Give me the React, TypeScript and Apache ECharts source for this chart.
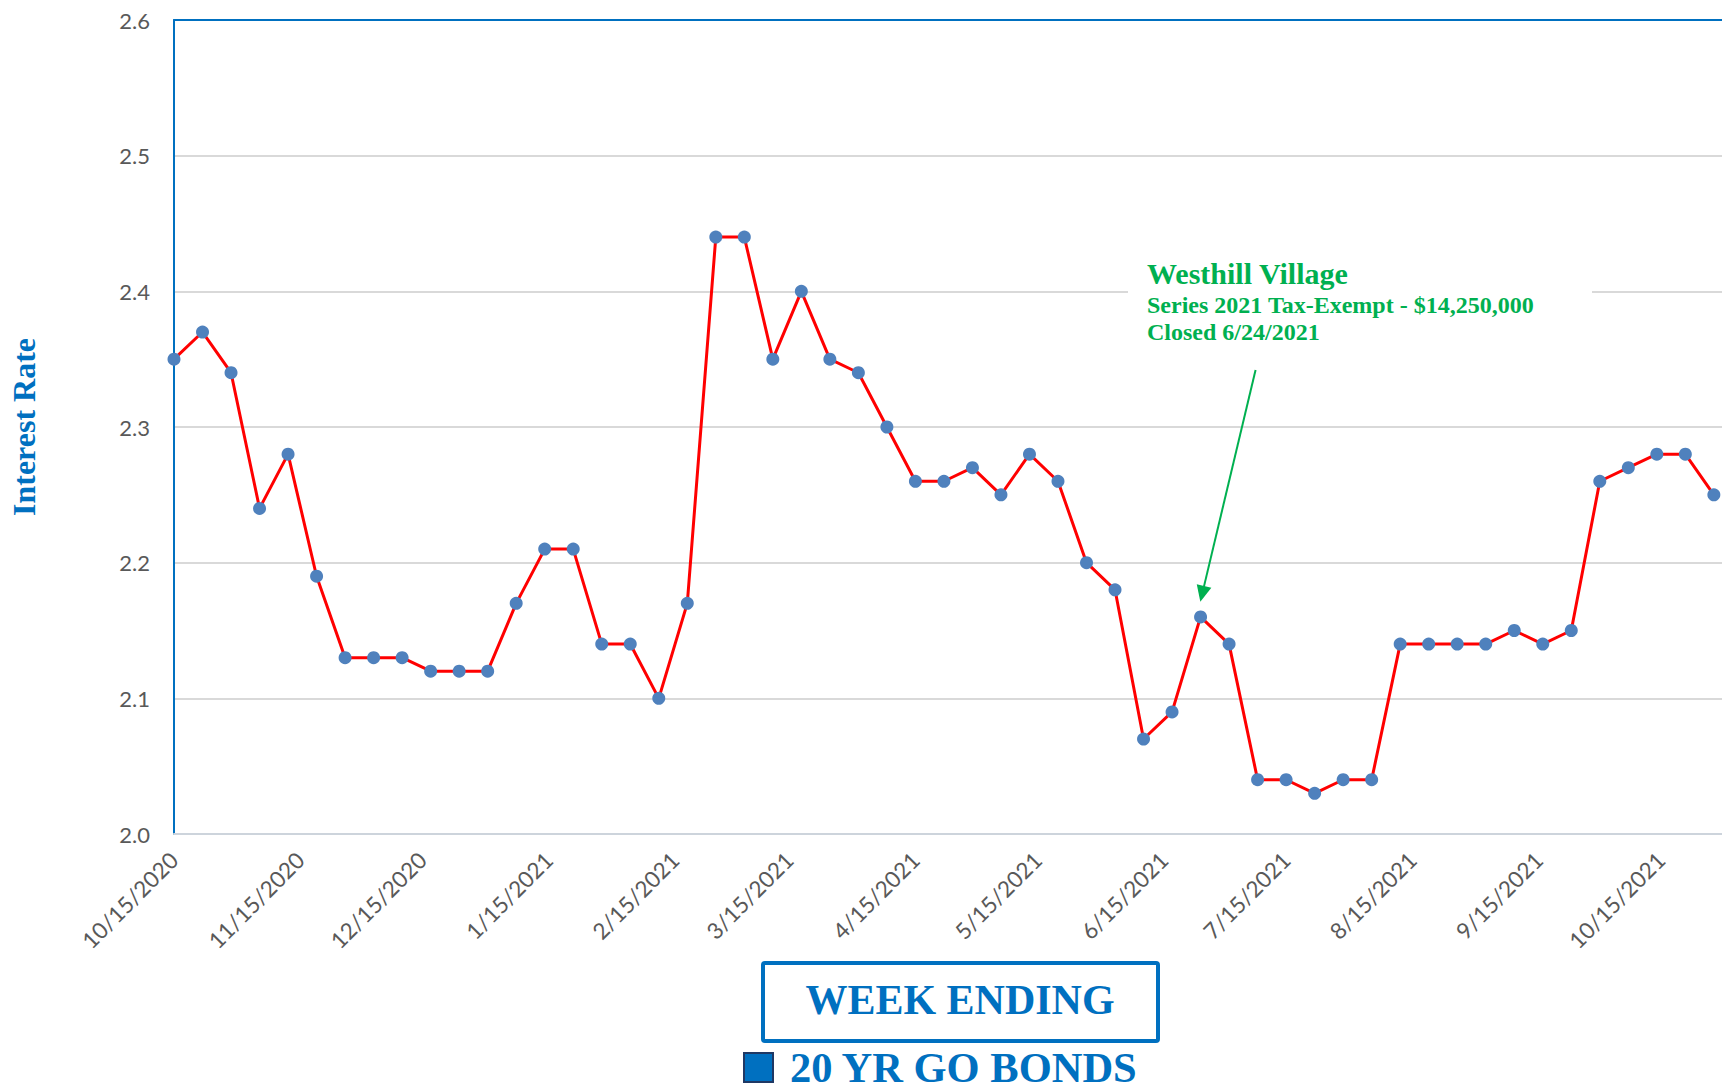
import React, { useEffect, useRef } from "react";
import * as echarts from "echarts";

// Week-ending dates (weekly)
const weekDates: string[] = [
  "2020-10-15", "2020-10-22", "2020-10-29", "2020-11-05", "2020-11-12", "2020-11-19", "2020-11-26",
  "2020-12-03", "2020-12-10", "2020-12-17", "2020-12-24", "2020-12-31",
  "2021-01-07", "2021-01-14", "2021-01-21", "2021-01-28",
  "2021-02-04", "2021-02-11", "2021-02-18", "2021-02-25",
  "2021-03-04", "2021-03-11", "2021-03-18", "2021-03-25",
  "2021-04-01", "2021-04-08", "2021-04-15", "2021-04-22", "2021-04-29",
  "2021-05-06", "2021-05-13", "2021-05-20", "2021-05-27",
  "2021-06-03", "2021-06-10", "2021-06-17", "2021-06-24",
  "2021-07-01", "2021-07-08", "2021-07-15", "2021-07-22", "2021-07-29",
  "2021-08-05", "2021-08-12", "2021-08-19", "2021-08-26",
  "2021-09-02", "2021-09-09", "2021-09-16", "2021-09-23", "2021-09-30",
  "2021-10-07", "2021-10-14", "2021-10-21", "2021-10-28",
];

// 20 YR GO BONDS interest rate
const rates: number[] = [
  2.35, 2.37, 2.34, 2.24, 2.28, 2.19, 2.13,
  2.13, 2.13, 2.12, 2.12, 2.12,
  2.17, 2.21, 2.21, 2.14,
  2.14, 2.10, 2.17, 2.44,
  2.44, 2.35, 2.40, 2.35,
  2.34, 2.30, 2.26, 2.26, 2.27,
  2.25, 2.28, 2.26, 2.20,
  2.18, 2.07, 2.09, 2.16,
  2.14, 2.04, 2.04, 2.03, 2.04,
  2.04, 2.14, 2.14, 2.14,
  2.14, 2.15, 2.14, 2.15, 2.26,
  2.27, 2.28, 2.28, 2.25,
];

// x-axis tick labels (15th of each month)
const monthTicks: string[] = [
  "2020-10-15", "2020-11-15", "2020-12-15", "2021-01-15", "2021-02-15", "2021-03-15",
  "2021-04-15", "2021-05-15", "2021-06-15", "2021-07-15", "2021-08-15", "2021-09-15", "2021-10-15",
];

const xMinDate = "2020-10-15";
const xMaxDate = "2021-10-30";
const yMin = 2.0;
const yMax = 2.6;
const yInterval = 0.1;

const seriesName = "20 YR GO BONDS";
const annotationLines = ["Westhill Village", "Series 2021 Tax-Exempt - $14,250,000", "Closed 6/24/2021"];
// arrow from annotation to the 6/24/2021 point: [date, day fraction, value]
const arrowStart: [string, number, number] = ["2021-07-07", 0.5, 2.342];
const arrowEnd: [string, number, number] = ["2021-06-24", 0.4, 2.177];

const DAY = 86400000;
function utc(s: string): number {
  const [y, m, d] = s.split("-").map(Number);
  return Date.UTC(y, m - 1, d);
}
const T0 = utc(xMinDate);
function dayNum(s: string): number {
  return Math.round((utc(s) - T0) / DAY);
}
function fmtDay(v: number): string {
  const d = new Date(T0 + Math.round(v) * DAY);
  return `${d.getUTCMonth() + 1}/${d.getUTCDate()}/${d.getUTCFullYear()}`;
}

const BLUE = "#0070C0";
const GREEN = "#00B050";
const SERIF = "'Liberation Serif', 'Times New Roman', serif";
const SANS = "Lato, 'Open Sans', sans-serif";

export default function App() {
  const ref = useRef<HTMLDivElement>(null);

  useEffect(() => {
    if (!ref.current) return;
    const chart = echarts.init(ref.current, undefined, { renderer: "svg" });
    const xMin = dayNum(xMinDate);
    const xMax = dayNum(xMaxDate);
    const data = weekDates.map((d, i) => [dayNum(d), rates[i]]);

    chart.setOption({
      animation: false,
      backgroundColor: "#ffffff",
      grid: { left: 174, right: 0, top: 20, bottom: 256, containLabel: false },
      xAxis: [
        {
          type: "value",
          position: "bottom",
          min: xMin,
          max: xMax,
          axisLine: { show: true, onZero: false, lineStyle: { color: "#CDD4DC", width: 2 } },
          axisTick: { show: false },
          splitLine: { show: false },
          axisLabel: {
            customValues: monthTicks.map((d) => dayNum(d)),
            formatter: (v: number) => fmtDay(v),
            rotate: 45,
            margin: 22,
            fontSize: 22.5,
            fontFamily: SANS,
            color: "#595959",
          },
        },
        {
          type: "value",
          position: "top",
          min: xMin,
          max: xMax,
          z: 3,
          axisLine: { show: true, onZero: false, lineStyle: { color: BLUE, width: 2 } },
          axisTick: { show: false },
          axisLabel: { show: false },
          splitLine: { show: false },
        },
      ],
      yAxis: {
        type: "value",
        min: yMin,
        max: yMax,
        interval: yInterval,
        axisLine: { show: true, onZero: false, lineStyle: { color: BLUE, width: 2 } },
        axisTick: { show: false },
        splitLine: { show: true, lineStyle: { color: "#D9D9D9", width: 2 } },
        axisLabel: {
          formatter: (v: number) => v.toFixed(1),
          margin: 24,
          fontSize: 22,
          fontFamily: SANS,
          color: "#595959",
        },
        name: "Interest Rate",
        nameLocation: "middle",
        nameRotate: 90,
        nameGap: 134,
        nameTextStyle: {
          fontSize: 32,
          fontWeight: "bold",
          fontFamily: SERIF,
          color: BLUE,
        },
      },
      legend: {
        left: 743,
        top: 1046,
        icon: "rect",
        itemWidth: 29,
        itemHeight: 29,
        padding: 0,
        data: [
          {
            name: seriesName,
            icon: "rect",
            itemStyle: { color: BLUE, borderColor: "#1F3864", borderWidth: 2 },
          },
        ],
        textStyle: {
          fontSize: 42.5,
          fontWeight: "bold",
          fontFamily: SERIF,
          color: BLUE,
          padding: [0, 0, 0, 12],
        },
      },
      series: [
        {
          name: seriesName,
          type: "line",
          xAxisIndex: 0,
          data,
          symbol: "circle",
          symbolSize: 13,
          itemStyle: { color: "#4F81BD" },
          lineStyle: { color: "#FF0000", width: 3 },
          z: 4,
          markLine: {
            silent: true,
            symbol: ["none", "triangle"],
            symbolSize: [15, 16],
            label: { show: false },
            lineStyle: { color: GREEN, width: 2, type: "solid" },
            data: [
              [
                { coord: [dayNum(arrowStart[0]) + arrowStart[1], arrowStart[2]] },
                { coord: [dayNum(arrowEnd[0]) + arrowEnd[1], arrowEnd[2]] },
              ],
            ],
          },
        },
      ],
      graphic: [
        {
          type: "rect",
          z: 5,
          shape: { x: 1128, y: 250, width: 464, height: 96 },
          style: { fill: "#ffffff" },
        },
        {
          type: "text",
          z: 6,
          x: 1147,
          y: 273,
          style: {
            text: annotationLines[0],
            fontSize: 30,
            fontWeight: "bold",
            fontFamily: SERIF,
            fill: GREEN,
            verticalAlign: "middle",
          },
        },
        {
          type: "text",
          z: 6,
          x: 1147,
          y: 305,
          style: {
            text: annotationLines[1],
            fontSize: 24,
            fontWeight: "bold",
            fontFamily: SERIF,
            fill: GREEN,
            verticalAlign: "middle",
          },
        },
        {
          type: "text",
          z: 6,
          x: 1147,
          y: 332,
          style: {
            text: annotationLines[2],
            fontSize: 24,
            fontWeight: "bold",
            fontFamily: SERIF,
            fill: GREEN,
            verticalAlign: "middle",
          },
        },
        {
          type: "rect",
          z: 5,
          shape: { x: 763, y: 963, width: 395, height: 78, r: 2 },
          style: { fill: "#ffffff", stroke: BLUE, lineWidth: 4 },
        },
        {
          type: "text",
          z: 6,
          x: 960,
          y: 1000,
          style: {
            text: "WEEK ENDING",
            fontSize: 42,
            fontWeight: "bold",
            fontFamily: SERIF,
            fill: BLUE,
            align: "center",
            verticalAlign: "middle",
          },
        },
      ],
    });

    return () => chart.dispose();
  }, []);

  return (
    <div
      ref={ref}
      style={{ position: "absolute", left: 0, top: 0, width: 1722, height: 1090, background: "#fff" }}
    />
  );
}
